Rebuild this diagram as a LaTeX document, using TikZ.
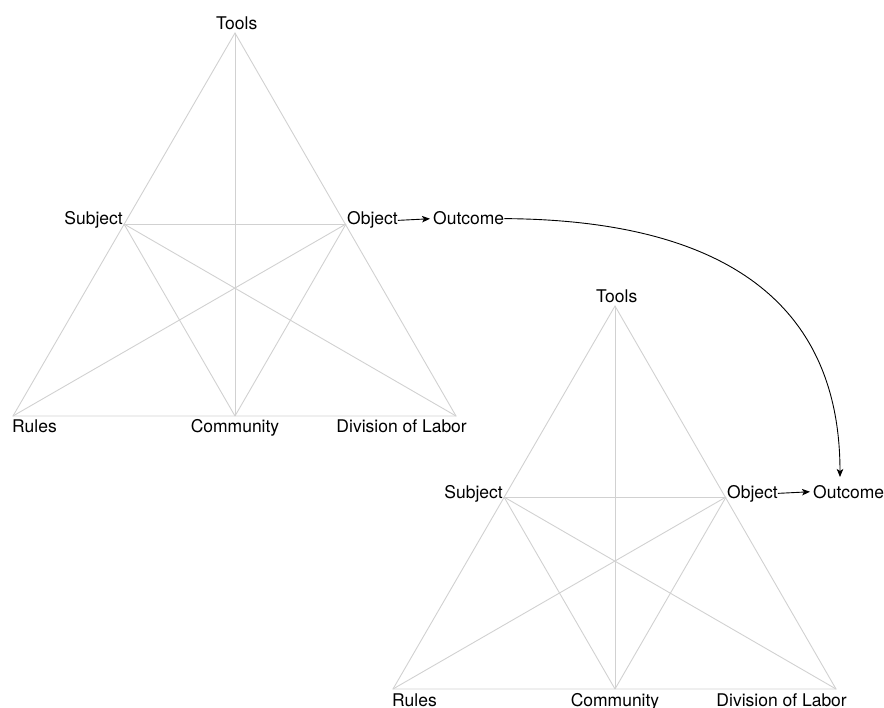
\documentclass[tikz,border=0pt]{standalone}
\usepackage{fontspec}
\setmainfont{TeX Gyre Heros}
\usetikzlibrary{arrows.meta}

\tikzset{
  edge/.style={draw=black!18, line width=0.9pt},
  lbl/.style={inner sep=0pt, font=\fontsize{17.5}{20}\selectfont},
  flow/.style={draw=black, line width=0.9pt, -{Stealth[length=8pt,width=6.5pt,inset=2pt]}},
}

% One activity system: vertex coordinates, connecting lines and labels
\newcommand{\activitysystem}{%
  \coordinate (T) at (235,33);
  \coordinate (S) at (124,224);
  \coordinate (O) at (346,224);
  \coordinate (R) at (13,416);
  \coordinate (C) at (235,416);
  \coordinate (D) at (456,416);
  \draw[edge] (T) -- (R) -- (D) -- cycle;
  \draw[edge] (T) -- (C);
  \draw[edge] (S) -- (O);
  \draw[edge] (S) -- (C);
  \draw[edge] (S) -- (D);
  \draw[edge] (O) -- (R);
  \draw[edge] (O) -- (C);
  \node[lbl, anchor=base] (tools) at (236.7,29.3) {Tools};
  \node[lbl, anchor=base east] (subj) at (123,225) {Subject};
  \node[lbl, anchor=base west] (obj) at (347,225) {Object};
  \node[lbl, anchor=base west] (out) at (433,225) {Outcome};
  \node[lbl, anchor=base west] (rules) at (12,433) {Rules};
  \node[lbl, anchor=base] (comm) at (235,433) {Community};
  \node[lbl, anchor=base east] (div) at (467,433) {Division of Labor};
  \draw[flow, shorten >=3pt] (obj.east) -- (out.west);
}

\begin{document}
\begin{tikzpicture}[x=1pt, y=-1pt]
  \useasboundingbox (0,0) rectangle (884,708);
  \begin{scope}[name prefix=a-]
    \activitysystem
  \end{scope}
  \begin{scope}[shift={(380,273)}, name prefix=b-]
    \activitysystem
  \end{scope}
  \coordinate (land) at (840,477);
  \draw[flow] (a-out.east) .. controls (720,220) and (840,300) .. (land);
\end{tikzpicture}
\end{document}
